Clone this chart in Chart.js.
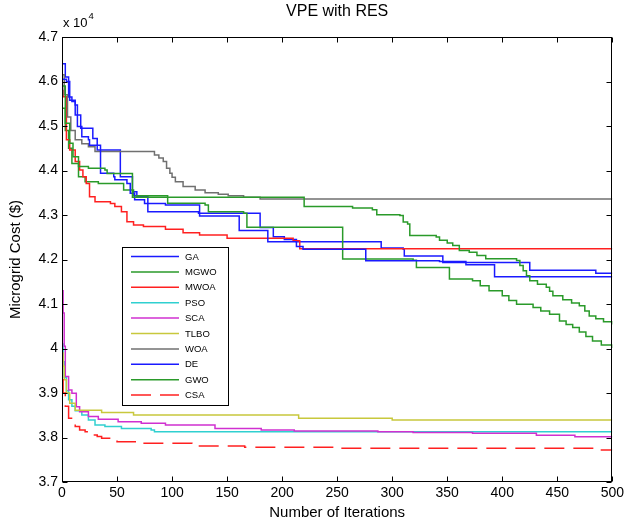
<!DOCTYPE html>
<html>
<head>
<meta charset="utf-8">
<script src="https://cdn.jsdelivr.net/npm/chart.js@4.4.1/dist/chart.umd.min.js"></script>
<style>
  html, body { margin: 0; padding: 0; background: #fff; }
  #wrap { width: 627px; height: 524px; }
</style>
</head>
<body>
<div id="wrap"><canvas id="c" width="627" height="524"></canvas></div>
<script>
// Axis ticks
const xTickValues = [0, 50, 100, 150, 200, 250, 300, 350, 400, 450, 500];
const yTickValues = [37000, 38000, 39000, 40000, 41000, 42000, 43000, 44000, 45000, 46000, 47000];
const yTickLabels = ['3.7', '3.8', '3.9', '4', '4.1', '4.2', '4.3', '4.4', '4.5', '4.6', '4.7'];

// Algorithm names, in legend order
const algorithms = ['GA', 'MGWO', 'MWOA', 'PSO', 'SCA', 'TLBO', 'WOA', 'DE', 'GWO', 'CSA'];

// Convergence histories: iteration at which the best cost changes, and the new best cost ($)
const gaIter = [0, 3, 6, 9, 12, 17, 28, 32, 53, 64, 68, 78, 124, 180, 192, 202, 213, 290, 310, 311, 346, 425, 485, 500];
const gaCost = [46400, 46100, 45650, 45550, 45250, 44950, 44720, 44460, 43860, 43520, 43410, 43075, 43040, 42720, 42510, 42450, 42400, 42260, 42230, 42080, 41930, 41760, 41690, 41690];

const mgwoIter = [0, 3, 6, 9, 15, 21, 33, 56, 65, 96, 130, 133, 165, 168, 255, 319, 322, 352, 373, 380, 388, 400, 406, 413, 428, 435, 443, 452, 458, 464, 470, 476, 482, 490, 500];
const mgwoCost = [45400, 44900, 44500, 44160, 43860, 43750, 43710, 43560, 43430, 43265, 43225, 43075, 43040, 42725, 42010, 41985, 41820, 41560, 41520, 41410, 41295, 41185, 41080, 40995, 40920, 40840, 40770, 40620, 40540, 40470, 40370, 40270, 40170, 40080, 40010];

const mwoaIter = [0, 1, 4, 7, 12, 16, 19, 22, 25, 30, 44, 48, 54, 59, 65, 74, 94, 110, 125, 150, 210, 216, 500];
const mwoaCost = [45800, 45660, 44690, 44460, 44200, 44010, 43860, 43710, 43410, 43300, 43260, 43190, 43075, 42850, 42775, 42740, 42680, 42600, 42550, 42480, 42420, 42240, 42240];

const psoIter = [0, 1, 2, 4, 6, 9, 12, 18, 24, 30, 39, 54, 81, 84, 500];
const psoCost = [40100, 39700, 39350, 39050, 38850, 38700, 38600, 38505, 38395, 38280, 38245, 38205, 38170, 38130, 38130];

const scaIter = [0, 1, 2, 3, 6, 9, 13, 16, 24, 33, 51, 72, 94, 139, 181, 211, 287, 319, 373, 431, 466, 500];
const scaCost = [41300, 40800, 40050, 39370, 39070, 38995, 38690, 38580, 38470, 38410, 38355, 38320, 38280, 38205, 38170, 38148, 38132, 38110, 38094, 38049, 38019, 38019];

const tlboIter = [0, 1, 2, 4, 7, 12, 36, 65, 215, 300, 500];
const tlboCost = [39900, 39600, 39300, 39000, 38770, 38610, 38560, 38505, 38430, 38395, 38395];

const woaIter = [0, 2, 5, 8, 12, 18, 24, 30, 84, 88, 92, 95, 98, 100, 103, 110, 121, 130, 142, 151, 165, 180, 500];
const woaCost = [46150, 45700, 45200, 44900, 44690, 44600, 44535, 44425, 44350, 44280, 44200, 44050, 43940, 43850, 43750, 43640, 43560, 43500, 43465, 43435, 43400, 43360, 43360];

const deIter = [0, 4, 7, 12, 14, 18, 24, 25, 35, 47, 48, 59, 62, 66, 75, 94, 125, 161, 187, 213, 219, 276, 343, 367, 393, 500];
const deCost = [46050, 46000, 45580, 45470, 44990, 44760, 44690, 44570, 43940, 43860, 43790, 43710, 43490, 43340, 43260, 43225, 42980, 42650, 42400, 42290, 42230, 41970, 41955, 41880, 41610, 41610];

const gwoIter = [0, 3, 7, 10, 15, 24, 39, 41, 64, 220, 264, 282, 286, 307, 310, 314, 316, 340, 343, 350, 355, 361, 370, 377, 385, 413, 416, 419, 422, 425, 432, 440, 443, 446, 455, 463, 470, 475, 479, 485, 492, 500];
const gwoCost = [45900, 45060, 44610, 44310, 44090, 44050, 44010, 43930, 43400, 43190, 43160, 43120, 43005, 42990, 42840, 42800, 42540, 42505, 42430, 42370, 42315, 42205, 42165, 42090, 42015, 41975, 41865, 41745, 41635, 41525, 41445, 41375, 41285, 41185, 41095, 41025, 40960, 40840, 40730, 40670, 40600, 40540];

const csaIter = [0, 1, 3, 6, 12, 16, 21, 24, 32, 36, 47, 50, 72, 118, 166, 251, 488, 500];
const csaCost = [39300, 39000, 38700, 38430, 38245, 38170, 38130, 38057, 38020, 37982, 37945, 37907, 37870, 37810, 37780, 37757, 37720, 37720];

const iterSeries = [gaIter, mgwoIter, mwoaIter, psoIter, scaIter, tlboIter, woaIter, deIter, gwoIter, csaIter];
const costSeries = [gaCost, mgwoCost, mwoaCost, psoCost, scaCost, tlboCost, woaCost, deCost, gwoCost, csaCost];

// Line styles
const lineColors = ['#1a1aff', '#2a9a2a', '#ff2020', '#30d0d0', '#d030d0', '#c8c83c', '#707070', '#1a1aff', '#2a9a2a', '#ff2020'];
const lineDashes = [[], [], [], [], [], [], [], [], [], [20, 9]];

const FONT = '"Liberation Sans", Arial, Helvetica, sans-serif';

const datasets = algorithms.map((name, i) => ({
  label: name,
  data: iterSeries[i].map((it, k) => ({ x: it, y: costSeries[i][k] })),
  borderColor: lineColors[i],
  backgroundColor: lineColors[i],
  borderWidth: 1.5,
  borderDash: lineDashes[i],
  pointRadius: 0,
  fill: false,
  stepped: 'before',
  tension: 0,
  order: algorithms.length - 1 - i
}));

// Box with inward tick marks, the axis exponent and the boxed legend
const matlabFrame = {
  id: 'matlabFrame',
  afterDatasetsDraw(chart) {
    const { ctx, chartArea: a, scales: { x, y } } = chart;
    ctx.save();
    const L = Math.round(a.left) + 0.5, R = Math.round(a.right) - 0.5;
    const T = Math.round(a.top) + 0.5, B = Math.round(a.bottom) - 0.5;
    ctx.strokeStyle = '#000';
    ctx.lineWidth = 1;
    ctx.setLineDash([]);
    ctx.strokeRect(L, T, R - L, B - T);
    ctx.beginPath();
    const tl = 5;
    x.ticks.forEach(t => {
      const px = Math.round(x.getPixelForValue(t.value)) + 0.5;
      ctx.moveTo(px, B); ctx.lineTo(px, B - tl);
      ctx.moveTo(px, T); ctx.lineTo(px, T + tl);
    });
    y.ticks.forEach(t => {
      const py = Math.round(y.getPixelForValue(t.value)) + 0.5;
      ctx.moveTo(L, py); ctx.lineTo(L + tl, py);
      ctx.moveTo(R, py); ctx.lineTo(R - tl, py);
    });
    ctx.stroke();

    // exponent label
    ctx.fillStyle = '#000';
    ctx.textAlign = 'left';
    ctx.textBaseline = 'alphabetic';
    ctx.font = '13px ' + FONT;
    const base = 'x 10';
    ctx.fillText(base, a.left + 1, a.top - 10);
    const w = ctx.measureText(base).width;
    ctx.font = '9.5px ' + FONT;
    ctx.fillText('4', a.left + 2 + w, a.top - 18);

    // legend
    const lx = 122, ly = 247, lw = 106, lh = 158;
    ctx.fillStyle = '#fff';
    ctx.fillRect(lx, ly, lw, lh);
    ctx.strokeStyle = '#000';
    ctx.lineWidth = 1;
    ctx.strokeRect(lx + 0.5, ly + 0.5, lw, lh);
    ctx.font = '9.5px ' + FONT;
    ctx.textBaseline = 'middle';
    chart.data.datasets.forEach((ds, i) => {
      const ry = ly + 9.5 + i * 15.4;
      ctx.strokeStyle = ds.borderColor;
      ctx.lineWidth = 1.5;
      ctx.setLineDash(ds.borderDash || []);
      ctx.beginPath();
      ctx.moveTo(lx + 9, ry);
      ctx.lineTo(lx + 57, ry);
      ctx.stroke();
      ctx.setLineDash([]);
      ctx.fillStyle = '#000';
      ctx.fillText(ds.label, lx + 63, ry + 0.5);
    });
    ctx.restore();
  }
};

new Chart(document.getElementById('c'), {
  type: 'line',
  data: { datasets },
  plugins: [matlabFrame],
  options: {
    responsive: false,
    animation: false,
    devicePixelRatio: 1,
    layout: { padding: { top: 0, right: 14, bottom: 0, left: 0 } },
    plugins: {
      legend: { display: false },
      tooltip: { enabled: false },
      title: {
        display: true,
        fullSize: false,
        text: 'VPE with RES',
        color: '#000',
        font: { family: FONT, size: 16, weight: 'normal' },
        padding: { top: 2, bottom: 15.8 }
      }
    },
    scales: {
      x: {
        type: 'linear',
        min: 0,
        max: 500,
        afterBuildTicks: s => { s.ticks = xTickValues.map(v => ({ value: v })); },
        afterFit: s => { s.height = 42; },
        ticks: {
          color: '#000',
          font: { family: FONT, size: 14 },
          padding: 3,
          maxRotation: 0,
          autoSkip: false,
          callback: v => String(v)
        },
        grid: { display: false, drawTicks: false },
        border: { display: false },
        title: {
          display: true,
          text: 'Number of Iterations',
          color: '#000',
          font: { family: FONT, size: 15 },
          padding: { top: 0, bottom: 2 }
        }
      },
      y: {
        type: 'linear',
        min: 37000,
        max: 47000,
        afterBuildTicks: s => { s.ticks = yTickValues.map(v => ({ value: v })); },
        afterFit: s => { s.width = 62; },
        ticks: {
          color: '#000',
          font: { family: FONT, size: 14 },
          padding: 4,
          autoSkip: false,
          callback: v => yTickLabels[yTickValues.indexOf(v)]
        },
        grid: { display: false, drawTicks: false },
        border: { display: false },
        title: {
          display: true,
          text: 'Microgrid Cost ($)',
          color: '#000',
          font: { family: FONT, size: 15 },
          padding: { top: 7, bottom: 0 }
        }
      }
    }
  }
});
</script>
</body>
</html>
